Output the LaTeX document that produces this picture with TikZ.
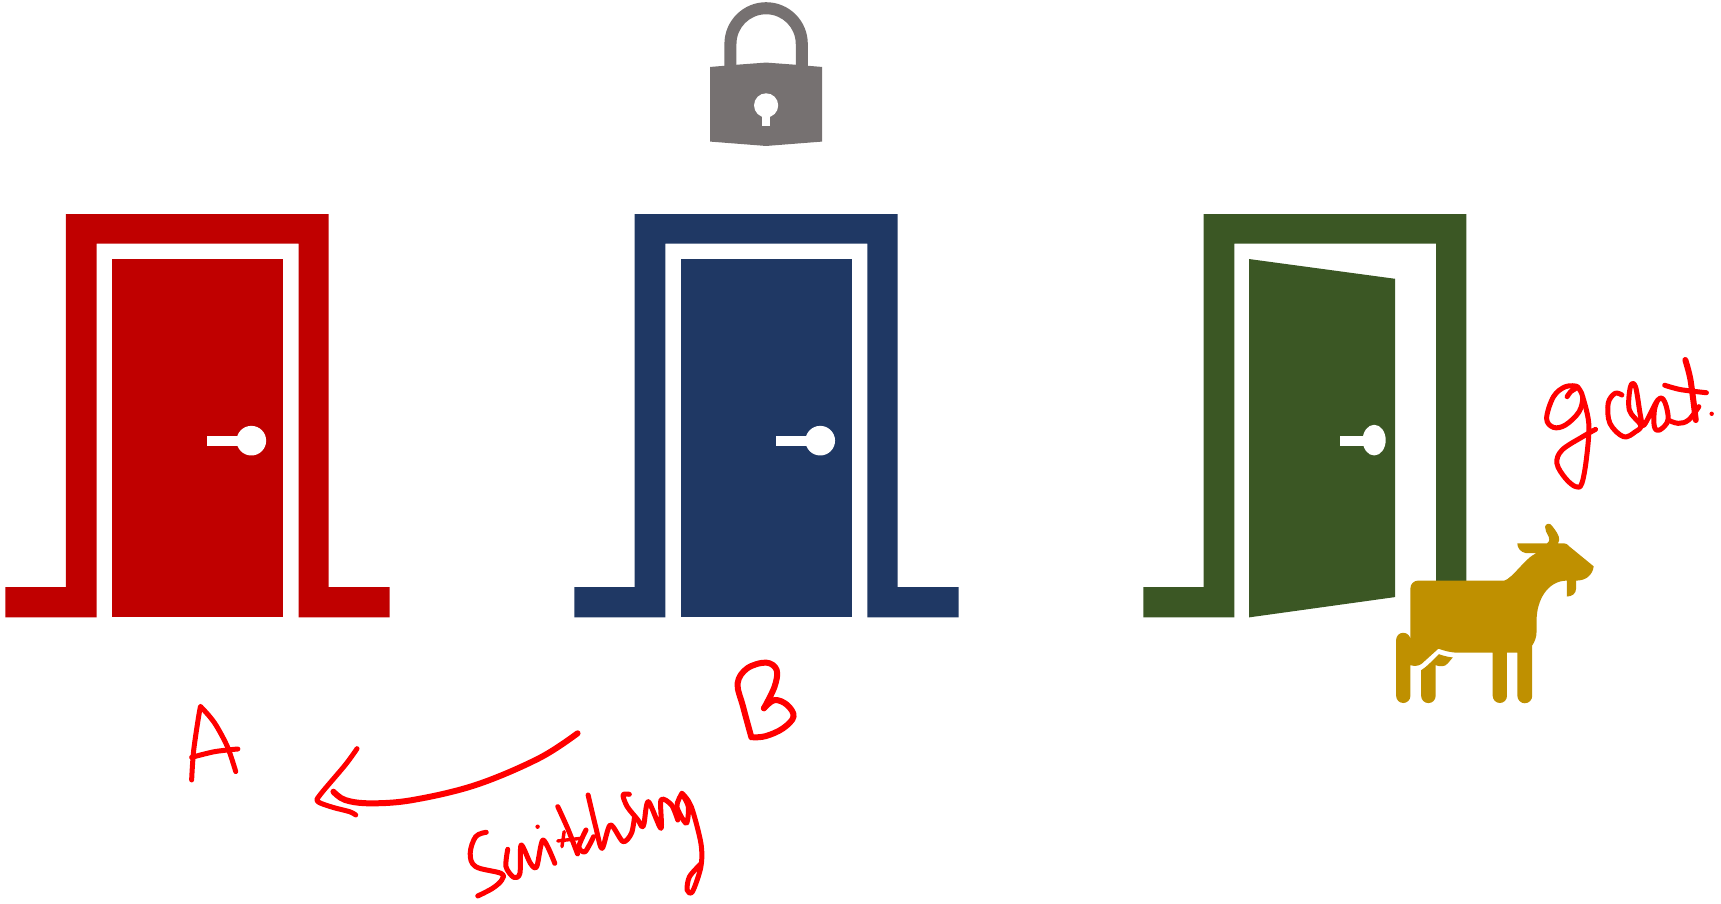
\documentclass[tikz,border=0pt]{standalone}
\definecolor{dred}{HTML}{C00000}
\definecolor{dblue}{HTML}{1F3864}
\definecolor{dgreen}{HTML}{3B5724}
\definecolor{dgold}{HTML}{BF9000}
\definecolor{dgray}{HTML}{767171}
\tikzset{
  hand/.style={draw=red,line width=6pt,line cap=round,line join=round},
  handthin/.style={draw=red,line width=5pt,line cap=round,line join=round},
  handfine/.style={draw=red,line width=3.4pt,line cap=round,line join=round},
  dotmark/.style={fill=red,draw=none},
  hole/.style={fill=white,draw=none},
  goatfill/.style={fill=dgold,draw=none}
}
\newcommand{\closedframe}[1]{%
  \fill[#1] (5,535) -- (60,535) -- (60,195) -- (299.5,195) -- (299.5,535) -- (355,535) -- (355,562.5) -- (272,562.5) -- (272,222) -- (88,222) -- (88,562.5) -- (5,562.5) -- cycle;
  \fill[#1] (102,236) rectangle (258,562.5);
  \fill[hole] (229,401.5) circle [radius=13.5];
  \fill[hole] (189,397) rectangle (218,406);
}
\begin{document}
\begin{tikzpicture}[x=1.0976pt,y=-1.0976pt]
\useasboundingbox (0,0) rectangle (1568,823.6);
% red and blue doors
\closedframe{dred}
\begin{scope}[shift={(518.3,0)}]
\closedframe{dblue}
\end{scope}
% green door
\fill[dgreen] (1041.6,535) -- (1096.6,535) -- (1096.6,195) -- (1336,195) -- (1336,531) -- (1308.5,531) -- (1308.5,222) -- (1124.6,222) -- (1124.6,562.5) -- (1041.6,562.5) -- cycle;
\fill[dgreen] (1138,236) -- (1271,254) -- (1271,544) -- (1138,562.5) -- cycle;
\fill[hole] (1252,401) ellipse [x radius=10.5,y radius=14];
\fill[hole] (1221,397) rectangle (1245,406);
% lock
\fill[dgray] (660,62) -- (660,40) arc [start angle=180,end angle=360,radius=38] -- (736,62) -- (725,62) -- (725,40) arc [start angle=360,end angle=180,radius=27] -- (671,62) -- cycle;
\fill[dgray] (647,61) -- (671,59) -- (698,57) -- (725,59) -- (749,61) -- (749,129) -- (698,133) -- (647,129) -- cycle;
\fill[hole] (698,96) circle [radius=11];
\fill[hole] (694.5,100) rectangle (701.5,115);
% goat
\fill[goatfill] (1292,529) -- (1370.5,529) .. controls (1378,527) and (1390,508) .. (1399.7,504) -- (1390.4,504)
  .. controls (1385,503) and (1382.4,499) .. (1382.4,495) -- (1409.5,495)
  .. controls (1412,493) and (1412,491) .. (1411,489) .. controls (1409,485) and (1407.5,483) .. (1407.7,480)
  .. controls (1408,477) and (1412,476) .. (1414,479) .. controls (1417,483) and (1421,488) .. (1420.6,492)
  -- (1419.5,495) -- (1425,495) .. controls (1427,495) and (1428,496) .. (1430,498) -- (1452,516)
  .. controls (1451,524) and (1445,529) .. (1436,529) -- (1436,536) .. controls (1436,541) and (1432,543.5) .. (1427.5,543.5)
  -- (1427.5,529) .. controls (1410,529) and (1400,547) .. (1400,565) -- (1400,575)
  .. controls (1400,581) and (1398,585) .. (1396,588) -- (1396,634) arc [start angle=0,end angle=180,radius=6.75]
  -- (1382.5,594.7) -- (1373,594.7) -- (1373,634) arc [start angle=0,end angle=180,radius=6.5]
  -- (1360,594.7) -- (1329.5,594.7) .. controls (1322,594.7) and (1316,593) .. (1310.5,591)
  -- (1295,605) .. controls (1292,607) and (1288,607) .. (1285,606)
  -- (1285,634) arc [start angle=0,end angle=180,radius=6.5]
  -- (1272,583) arc [start angle=180,end angle=360,radius=6.5] -- (1285,583) -- (1285,536)
  arc [start angle=180,end angle=270,radius=7] -- cycle;
\fill[goatfill] (1294.8,610.6) .. controls (1299,608) and (1302,605) .. (1311,596) .. controls (1315,597.5) and (1319,598.5) .. (1323.6,599)
  .. controls (1320,603) and (1318,607) .. (1314,607) .. controls (1312,607) and (1310,607) .. (1308,606)
  -- (1308,634) arc [start angle=0,end angle=180,radius=6.6] -- cycle;
% A
\draw[handthin] plot[smooth,tension=0.5] coordinates {(174.6,710.6) (176.5,683.3) (182,647) (184.1,645.3) (195.7,659) (207.2,680.3) (214.8,703)};
\draw[handthin] plot[smooth,tension=0.5] coordinates {(174.6,690) (195.7,684.8) (216.7,682.4)};
% arrow
\draw[hand] plot[smooth,tension=0.6] coordinates {(526.2,668.1) (491,690.9) (433.4,715.2) (375.9,728.9) (337.5,731.9) (314.5,728.9) (303.8,721.3)};
\draw[handthin] plot[smooth,tension=0.5] coordinates {(325.3,682.1) (314.5,697) (291.5,724.3) (289.6,730.4) (303,735.5) (318.4,739.5) (324.1,742.5)};
% B
\draw[hand] plot[smooth,tension=0.6] coordinates {(684.6,671.8) (677,643.8) (672,622.6) (680.8,608.9) (698,603.7) (707.6,610.4) (705.7,625.6) (696,645.3)};
\draw[hand] plot[smooth,tension=0.6] coordinates {(696,645.3) (705.7,637.8) (717.2,642.3) (723,652.9) (713.4,663.6) (698,670.6) (686.5,671.8)};
% Switching
\draw[handthin] plot[smooth,tension=0.6] coordinates {(443,758.3) (433.4,762.3) (428.4,777.5) (433.4,789.6) (456.4,795.7) (457.2,801.7) (448.8,809.3) (435.3,816.3)};
\draw[handthin] plot[smooth,tension=0.5] coordinates {(462.6,773.8) (461,789.6) (468,799.3) (473.7,795.7) (474.8,769.9) (483.3,786.6) (489,789.6) (494.8,765.3) (505.5,786.6)};
\fill[dotmark] (489.8,753.2) circle [radius=2];
\draw[handthin] plot[smooth,tension=0.5] coordinates {(508.2,734.9) (517.8,756.2) (526.2,778)};
\draw[handfine] (508.2,766.2) -- (529.3,763.8);
\draw[handfine] (512,771.4) -- (514,757.7);
\draw[handthin] plot[smooth,tension=0.5] coordinates {(533.9,756.2) (527.4,771.4) (533.1,776) (540.8,762.3)};
\draw[handthin] plot[smooth,tension=0.5] coordinates {(535.8,724.3) (542.7,753.2) (548.5,772.9) (556.1,751.6) (567.6,766.8) (575.3,759.2) (578,745)};
\draw[handthin] plot[smooth,tension=0.5] coordinates {(573.4,723.7) (567.6,724.3) (571.5,735) (581.1,747) (584.9,753.2) (586.8,750.1) (590.7,730.4) (602.2,754.7) (602.2,728.9) (611.8,733.4) (617.5,747.1)};
\draw[handthin] plot[smooth,tension=0.5] coordinates {(621.3,722.8) (616.7,734.9) (625.2,750.1) (627.1,734.9) (621.3,722.8) (629.8,734.9) (638.6,768.3) (638.6,789.6) (630.9,812.4) (626,810.9) (628.2,798.7) (638.6,787)};
% goat text
\draw[handthin] plot[smooth,tension=0.6] coordinates {(1427.8,361.4) (1431,356.9) (1437.2,352.3) (1426.3,352.3) (1415.4,361.4) (1409.1,381.2) (1415.4,389.4) (1426.3,387.2) (1438.7,375.1) (1441.9,361.4) (1437.2,352.3)};
\draw[handthin] plot[smooth,tension=0.6] coordinates {(1441.9,361.4) (1447.5,385.7) (1445.6,416.1) (1441.2,440.4) (1435.6,443.4) (1426.3,435.8) (1418.5,422.2) (1423.2,410) (1441.9,397.9) (1453.7,391.2)};
\draw[handthin] plot[smooth,tension=0.6] coordinates {(1477.7,359.9) (1471.4,358.4) (1465.2,367.5) (1466.8,385.7) (1479.2,397.9) (1490.1,393.3) (1494.8,387.2) (1484.5,373.6) (1485.5,352.3) (1490.1,352.3) (1494.8,379.7) (1497.9,387.2) (1510.4,364.5) (1516.6,366) (1519.7,382.7) (1512,391.8) (1507.3,388.8) (1507.3,373.6) (1510.4,364.5)};
\draw[handthin] plot[smooth,tension=0.6] coordinates {(1519.7,382.7) (1529,385.7) (1538.4,382.7) (1547.8,370.5)};
\draw[hand] plot[smooth,tension=0.5] coordinates {(1535.5,328) (1540.2,346.2) (1545,382.7)};
\draw[handthin] plot[smooth,tension=0.5] coordinates {(1516.7,351) (1531.3,355) (1554.7,357.8)};
\fill[dotmark] (1559.5,377) circle [radius=2];
\end{tikzpicture}
\end{document}
